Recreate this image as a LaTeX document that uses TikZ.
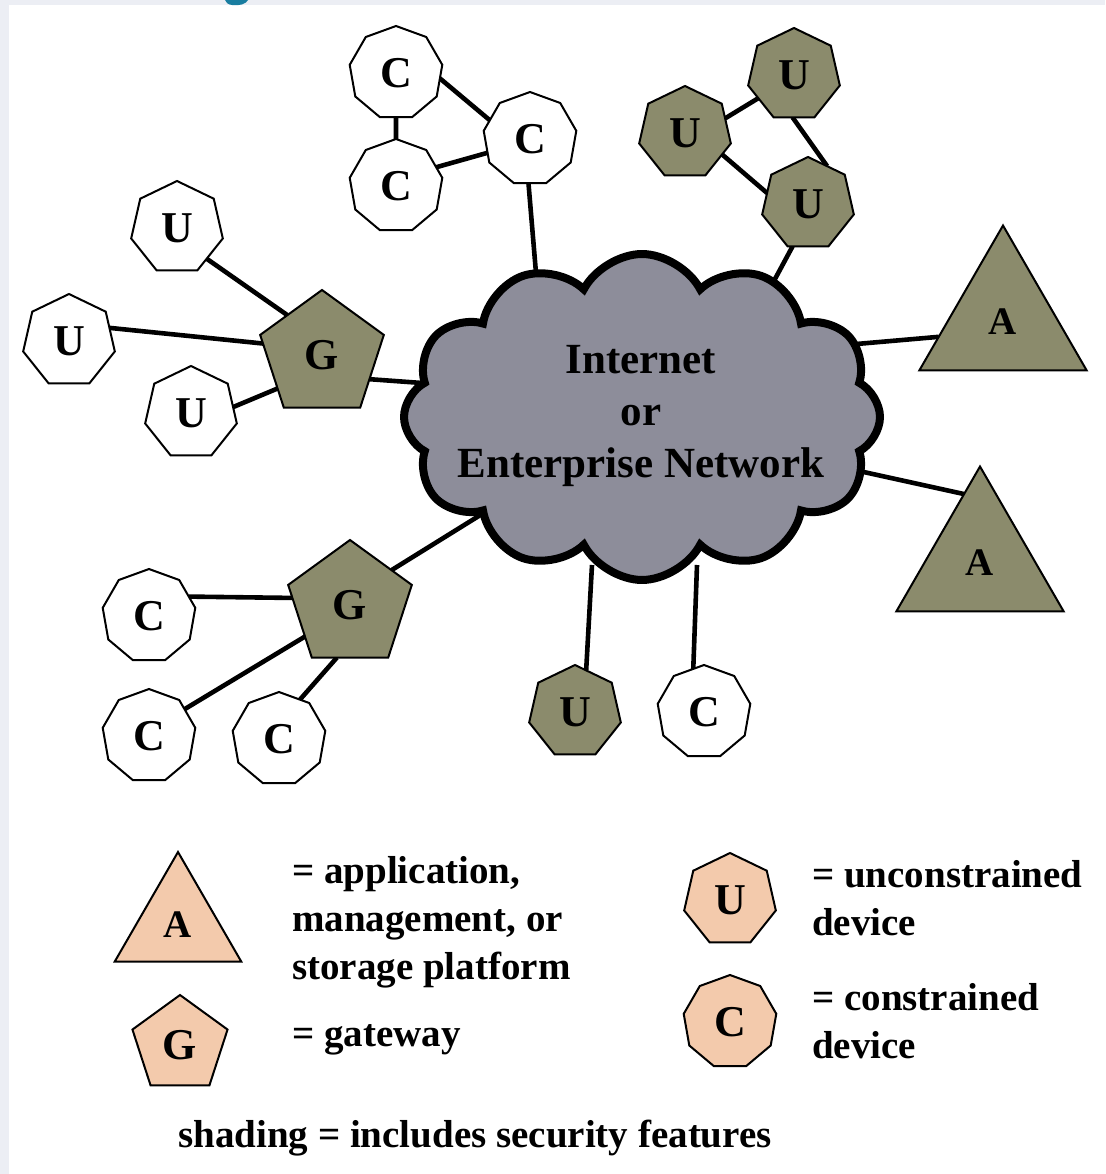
\documentclass[tikz,border=0pt]{standalone}
\usepackage{fontspec}
\setmainfont{Liberation Serif}
\usetikzlibrary{shapes.geometric,shapes.symbols,calc,backgrounds}
\definecolor{olivesh}{RGB}{139,139,108}
\definecolor{peach}{RGB}{243,202,172}
\definecolor{cloudgray}{RGB}{141,141,154}
\definecolor{panelbg}{RGB}{236,238,244}
\definecolor{titleblue}{RGB}{25,125,160}
\begin{document}
\begin{tikzpicture}[x=1pt,y=-1pt,
  dev/.style={draw=black, line width=2pt, inner sep=0pt, outer sep=0pt, font=\fontsize{44}{44}\selectfont\bfseries},
  udev/.style={dev, regular polygon, regular polygon sides=7, minimum size=94pt},
  cdev/.style={dev, regular polygon, regular polygon sides=9, minimum size=94pt},
  gdev/.style={dev, regular polygon, regular polygon sides=5, minimum size=130pt},
  adev/.style={dev, regular polygon, regular polygon sides=3, minimum size=193pt, font=\fontsize{39}{39}\selectfont\bfseries},
  sec/.style={fill=olivesh},
  nosec/.style={fill=white},
  leg/.style={fill=peach},
  link/.style={line width=4.6pt, black},
  legtext/.style={anchor=west, align=left, inner sep=0pt, font=\fontsize{39}{48}\selectfont\bfseries},
]
\useasboundingbox (0,0) rectangle (1105,1174);

% cloud
\node[cloud, cloud puffs=12, cloud puff arc=125, cloud ignores aspect, minimum width=476pt, minimum height=326pt,
      draw=black, line width=8pt, fill=cloudgray, inner sep=0pt] (net) at (642,417) {};
\node[align=center, inner sep=0pt, font=\fontsize{43}{52}\selectfont\bfseries] (nettext) at (641,416) {Internet\\or\\Enterprise Network};

% top C cluster
\node[cdev, nosec] (C1) at (396,73) {C};
\node[cdev, nosec] (C2) at (396,186) {C};
\node[cdev, nosec] (C3) at (530,139) {C};
% top U cluster
\node[udev, sec] (U1) at (794,75) {U};
\node[udev, sec] (U2) at (685,133) {U};
\node[udev, sec] (U3) at (808,204) {U};
% left gateway cluster
\node[gdev, sec] (G1) at (322,355) {G};
\node[udev, nosec] (Ua) at (177,228) {U};
\node[udev, nosec] (Ub) at (69,341) {U};
\node[udev, nosec] (Uc) at (191,413) {U};
% lower gateway cluster
\node[gdev, sec] (G2) at (350,605) {G};
\node[cdev, nosec] (Ca) at (149,616) {C};
\node[cdev, nosec] (Cb) at (149,736) {C};
\node[cdev, nosec] (Cc) at (279,739) {C};
% bottom devices
\node[udev, sec] (Ud) at (575,712) {U};
\node[cdev, nosec] (Cd) at (704,712) {C};
% applications
\node[adev, sec] (A1) at (1003,322) {A};
\node[adev, sec] (A2) at (980,563) {A};

% legend
\node[adev, leg, minimum size=146pt] (LA) at (178,925) {A};
\node[gdev, leg, minimum size=100pt] (LG) at (180,1045) {G};
\node[udev, leg] (LU) at (730,900) {U};
\node[cdev, leg] (LC) at (730,1022) {C};
\node[legtext] (tA) at (292,922) {= application,\\management, or\\storage platform};
\node[legtext] (tG) at (292,1040) {= gateway};
\node[legtext] (tU) at (812,898) {= unconstrained\\device};
\node[legtext] (tC) at (812,1021) {= constrained\\device};
\node[inner sep=0pt, font=\fontsize{39}{48}\selectfont\bfseries] (tS) at (475,1138) {shading = includes security features};

% cloud attachment points
\coordinate (k1) at (537,285);
\coordinate (k2) at (768,292);
\coordinate (k3) at (422,383);
\coordinate (k4) at (482,514);
\coordinate (k5) at (592,565);
\coordinate (k6) at (697,565);
\coordinate (k7) at (845,345);
\coordinate (k8) at (850,469);

\begin{pgfonlayer}{background}
  \fill[panelbg] (0,0) rectangle (1105,1174);
  \fill[white] (9,5) rectangle (1105,1174);
  \fill[titleblue] (225,0) -- (248,0) .. controls (246,4) and (240,6) .. (232,5) .. controls (228,4.5) and (226,3) .. (225,0) -- cycle;
  % top C cluster
  \draw[link] (C1.270) -- (C2.90);
  \draw[link] (C1.-7) -- (C3.155);
  \draw[link] (C2.25) -- (C3.198);
  \draw[link] (C3.268) -- (k1);
  % top U cluster
  \draw[link] (U2.20) -- (U1.213);
  \draw[link] (U2.-30) -- (U3.165);
  \draw[link] (U1.268) -- (U3.63);
  \draw[link] (U3.250) -- (k2);
  % left gateway
  \draw[link] (Ua.-46) -- (G1.131);
  \draw[link] (Ub.18) -- (G1.169);
  \draw[link] (Uc.8) -- (G1.217);
  \draw[link] (G1.-27) -- (k3);
  % lower gateway
  \draw[link] (Ca.26) -- (G2.173);
  \draw[link] (Cb.37) -- (G2.215);
  \draw[link] (Cc.62) -- (G2.256);
  \draw[link] (G2.40) -- (k4);
  % bottom
  \draw[link] (Ud.75) -- (k5);
  \draw[link] (Cd.104) -- (k6);
  % applications
  \draw[link] (A1.193) -- (k7);
  \draw[link] (A2.103) -- (k8);
\end{pgfonlayer}
\end{tikzpicture}
\end{document}
